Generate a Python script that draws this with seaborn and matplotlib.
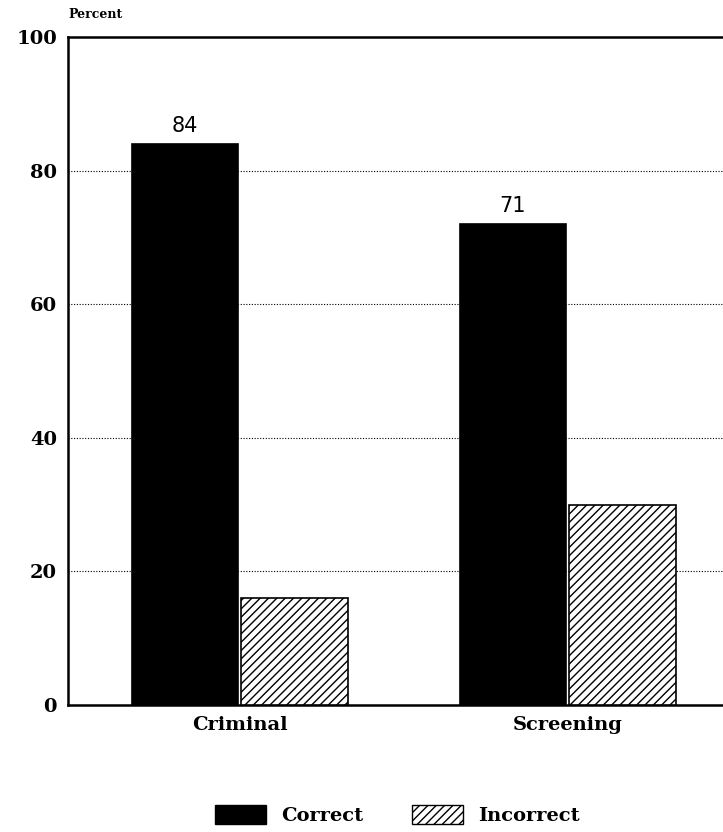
import numpy as np
import pandas as pd
import seaborn as sns
import matplotlib.pyplot as plt
from matplotlib.patches import Patch

# du lieu
categories = ["Criminal", "Screening"]
correct = [84, 72]
incorrect = [16, 30]
correct_labels = ["84", "71"]
y_ticks = [0, 20, 40, 60, 80, 100]

df = pd.DataFrame({
    "Test": categories * 2,
    "Result": ["Correct"] * 2 + ["Incorrect"] * 2,
    "Percent": correct + incorrect,
})

sns.set_theme(style="white")
plt.rcParams['font.family'] = ['DejaVu Serif', 'DejaVu Sans']
plt.rcParams['hatch.linewidth'] = 1.0
plt.rcParams['text.color'] = 'black'
plt.rcParams['xtick.color'] = 'black'
plt.rcParams['ytick.color'] = 'black'

fig = plt.figure(figsize=(7.23, 8.32), dpi=100)
ax = fig.add_axes([0.094, 0.1526, 0.906, 0.8029])

sns.barplot(data=df, x="Test", y="Percent", hue="Result",
            palette={"Correct": "black", "Incorrect": "white"},
            edgecolor="black", linewidth=1.2, width=0.67, gap=0.03,
            legend=False, ax=ax, zorder=3)

for p in ax.containers[1]:
    p.set_hatch("////")

# nhan tren cot Correct
for p, lab in zip(ax.containers[0], correct_labels):
    ax.text(p.get_x() + p.get_width() / 2, p.get_height() + 1.2, lab,
            ha="center", va="bottom", fontsize=15, family="DejaVu Sans", color="black")

ax.set_ylim(0, 100)
ax.set_xlim(-0.524, 1.473)
ax.set_yticks(y_ticks)
ax.set_yticklabels([str(v) for v in y_ticks], fontsize=14, fontweight="bold", color="black")
ax.set_xticks(range(len(categories)))
ax.set_xticklabels(categories, fontsize=14, fontweight="bold", color="black")
ax.tick_params(axis="both", length=0, pad=8)
ax.set_xlabel("")
ax.set_ylabel("")

for y in y_ticks[1:-1]:
    ax.axhline(y, color="black", linestyle=(0, (1, 1.5)), linewidth=0.8, zorder=1)

for s in ["left", "top", "bottom"]:
    ax.spines[s].set_color("black")
    ax.spines[s].set_linewidth(1.8)
ax.spines["right"].set_visible(False)

fig.text(0.094, 0.975, "Percent", fontsize=9, fontweight="bold", ha="left", va="bottom",
         color="black")

handles = [Patch(facecolor="black", edgecolor="black", label="Correct"),
           Patch(facecolor="white", edgecolor="black", hatch="////", label="Incorrect")]
fig.legend(handles=handles, loc="center", bbox_to_anchor=(0.55, 0.02),
           ncol=2, frameon=False, handlelength=2.6, handleheight=1.1,
           columnspacing=2.5, labelcolor="black", prop={"weight": "bold", "size": 14})

plt.savefig("out.png", dpi=100)
